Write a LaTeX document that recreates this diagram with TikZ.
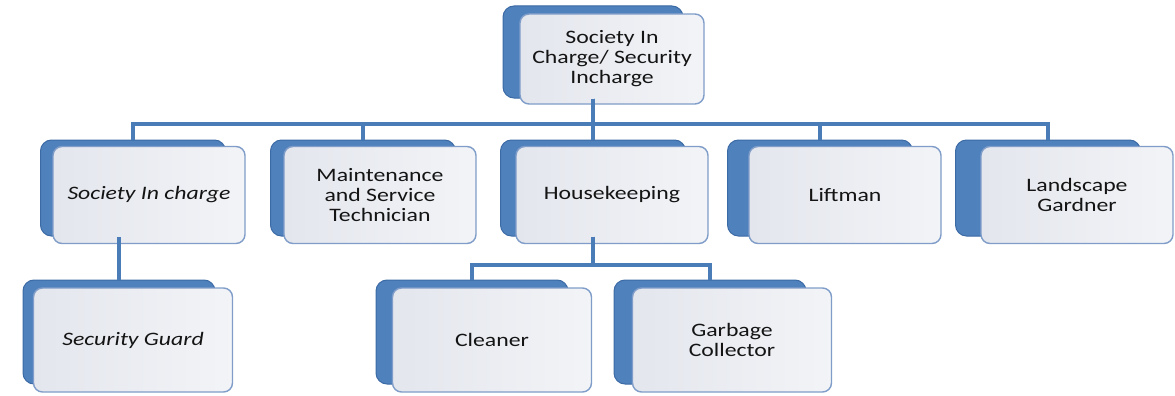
\documentclass[tikz,border=0pt]{standalone}
\usepackage{fontspec}
\setmainfont{Carlito}[FakeStretch=1.25]
\usepackage{tikz}
\usetikzlibrary{positioning}
\definecolor{plateblue}{HTML}{4F81BD}
\definecolor{platedark}{HTML}{3C6AA5}
\definecolor{linkblue}{HTML}{4A7DB8}
\definecolor{cardgrey}{HTML}{E3E6ED}
\definecolor{cardedge}{HTML}{7F9DC8}
\definecolor{cardtext}{HTML}{141414}

\begin{document}
\begin{tikzpicture}[
    x=1pt, y=-1pt,
    font=\fontsize{19}{20}\selectfont,
    plate/.style={
      rectangle,
      rounded corners=11pt,
      draw=platedark,
      line width=1pt,
      fill=plateblue,
      inner sep=0pt
    },
    card/.style={
      rectangle,
      rounded corners=9pt,
      draw=cardedge,
      line width=1.4pt,
      left color=cardgrey,
      right color=cardgrey!45,
      text=cardtext,
      align=center,
      inner sep=0pt
    },
    link/.style={draw=linkblue, line width=3.5pt},
    headplatesize/.style={minimum width=180pt, minimum height=92pt},
    headcardsize/.style={minimum width=184pt, minimum height=90pt},
    midplatesize/.style={minimum width=185pt, minimum height=96pt},
    midcardsize/.style={minimum width=192pt, minimum height=97pt},
    lowplatesize/.style={minimum width=192pt, minimum height=104pt},
    lowcardsize/.style={minimum width=199pt, minimum height=104pt}
]
  \useasboundingbox (0,0) rectangle (1175,396);

  % back plates
  \node[plate, headplatesize] (headplate) at (593,52) {};
  \node[plate, midplatesize] (sicplate) at (133,188) {};
  \node[plate, midplatesize] (mstplate) at (363,188) {};
  \node[plate, midplatesize] (hkplate) at (593,188) {};
  \node[plate, midplatesize] (liftplate) at (820,188) {};
  \node[plate, midplatesize] (landplate) at (1048,188) {};
  \node[plate, lowplatesize] (guardplate) at (119,332) {};
  \node[plate, lowplatesize] (cleanerplate) at (472,332) {};
  \node[plate, lowplatesize] (garbageplate) at (710,332) {};

  % front cards
  \node[card, headcardsize] (head) at ([shift={(19,7)}]headplate.center)
  {Society In\\Charge/ Security\\Incharge};
  \node[card, midcardsize] (sic) at ([shift={(16,7)}]sicplate.center)
  {\textit{Society In charge}};
  \node[card, midcardsize] (mst) at ([shift={(17,7)}]mstplate.center)
  {Maintenance\\and Service\\Technician};
  \node[card, midcardsize] (hk) at ([shift={(19,7)}]hkplate.center)
  {Housekeeping};
  \node[card, midcardsize] (lift) at ([shift={(25,7)}]liftplate.center)
  {Liftman};
  \node[card, midcardsize] (land) at ([shift={(29,7)}]landplate.center)
  {Landscape\\Gardner};
  \node[card, lowcardsize] (guard) at ([shift={(14,8)}]guardplate.center)
  {\textit{Security Guard}};
  \node[card, lowcardsize] (cleaner) at ([shift={(20,8)}]cleanerplate.center)
  {Cleaner};
  \node[card, lowcardsize] (garbage) at ([shift={(22,8)}]garbageplate.center)
  {Garbage\\Collector};

  % connectors
  \coordinate (bus) at (593,124);
  \coordinate (hkbus) at (593,265);

  \foreach \kid in {sic,mst,hk,lift,land}
    \draw[link] (headplate.south) |- (bus) -| (\kid plate.north);
  \foreach \kid in {cleaner,garbage}
    \draw[link] (hkplate.south) |- (hkbus) -| (\kid plate.north);
  \draw[link] (guardplate.north) -- (guardplate.north |- sicplate.south);

\end{tikzpicture}
\end{document}
